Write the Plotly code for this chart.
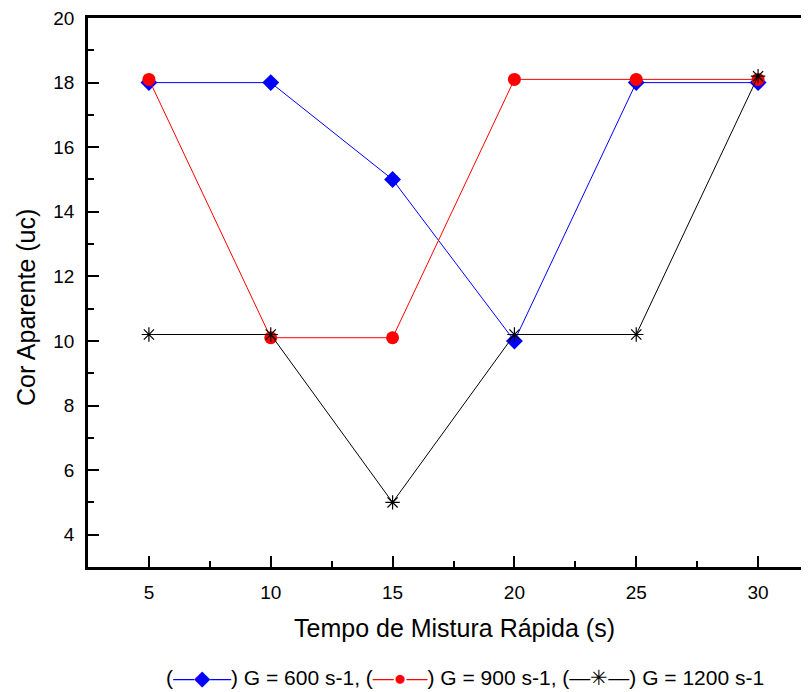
import plotly.graph_objects as go

tempo = [5, 10, 15, 20, 25, 30]
cor_600 = [18.0, 18.0, 15.0, 10.0, 18.0, 18.0]
cor_900 = [18.1, 10.1, 10.1, 18.1, 18.1, 18.1]
cor_1200 = [10.2, 10.2, 5.0, 10.2, 10.2, 18.2]
names = ["G = 600 s-1", "G = 900 s-1", "G = 1200 s-1"]
colors = ["#0000FF", "#FF0000", "#000000"]
symbols = ["diamond", "circle", "asterisk-open"]
glyphs = ["◆", "●", "✳"]
x_title = "Tempo de Mistura Rápida (s)"
y_title = "Cor Aparente (uc)"

FONT = "Liberation Sans, Arial, sans-serif"

# the page body has an 8px margin; figure drawn 801x684 so it fits the 809x692 window
W, H = 801, 684
L, T, B, R = 80, 10, 125, 0
PW, PH = W - L - R, H - T - B


def px_x(sx):
    return (sx - 8 - L) / PW


def px_y(sy):
    return (H - B - (sy - 8)) / PH


fig = go.Figure()
for ys, nm, c, s in zip([cor_600, cor_900, cor_1200], names, colors, symbols):
    marker = dict(symbol=s, size=13, color=c)
    if s == "asterisk-open":
        marker = dict(symbol=s, size=12, color=c, line=dict(color=c, width=1.2))
    fig.add_trace(go.Scatter(x=tempo, y=ys, name=nm, mode="lines+markers",
                             line=dict(color=c, width=1), marker=marker,
                             showlegend=False))

axis_common = dict(showgrid=False, zeroline=False, showline=True, linecolor="black",
                   linewidth=2.5, ticks="inside", tickcolor="black", tickwidth=2,
                   ticklen=11, ticklabeloverflow="allow",
                   tickfont=dict(family=FONT, size=19, color="black"))

fig.update_xaxes(range=[2.5, 32.09], tickmode="array", tickvals=[5, 10, 15, 20, 25, 30],
                 minor=dict(ticks="inside", ticklen=6, tickwidth=2, tickcolor="black",
                            tickvals=[7.5, 12.5, 17.5, 22.5, 27.5]),
                 mirror=True, ticklabelstandoff=6, **axis_common)
fig.update_yaxes(range=[3, 20.001], tickmode="array", tickvals=[4, 6, 8, 10, 12, 14, 16, 18, 20],
                 minor=dict(ticks="inside", ticklen=6, tickwidth=2, tickcolor="black",
                            tickvals=[5, 7, 9, 11, 13, 15, 17, 19]),
                 ticklabelstandoff=7, **axis_common)

legend_parts = []
for nm, c, g in zip(names, colors, glyphs):
    legend_parts.append(f"(<span style='color:{c}'>—{g}—</span>) {nm}")
legend_text = ", ".join(legend_parts)

fig.update_layout(
    width=W, height=H,
    margin=dict(l=L, r=R, t=T, b=B),
    paper_bgcolor="white", plot_bgcolor="white",
    font=dict(family=FONT, color="black"),
    annotations=[
        dict(text=x_title, xref="paper", yref="paper", x=px_x(454), y=px_y(628),
             showarrow=False, font=dict(size=25, family=FONT),
             xanchor="center", yanchor="middle"),
        dict(text=y_title, xref="paper", yref="paper", x=px_x(26), y=px_y(308),
             showarrow=False, textangle=-90, font=dict(size=25, family=FONT),
             xanchor="center", yanchor="middle"),
        dict(text=legend_text, xref="paper", yref="paper", x=px_x(465), y=px_y(677),
             showarrow=False, font=dict(size=21, family=FONT),
             xanchor="center", yanchor="middle"),
    ],
)

fig.write_html("out.html")
